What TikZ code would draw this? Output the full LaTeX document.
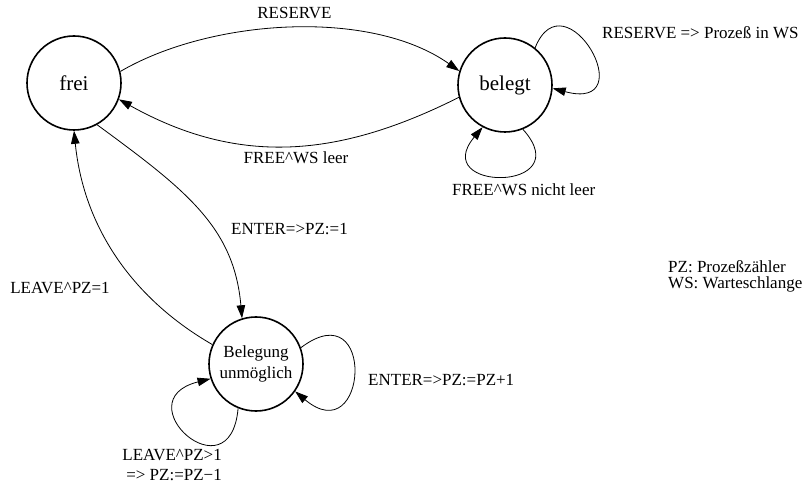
\documentclass[tikz,border=0pt]{standalone}
\usepackage{fontspec}
\setmainfont{Liberation Serif}
\usetikzlibrary{arrows.meta}

\begin{document}
\begin{tikzpicture}[x=1pt,y=1pt,
  state/.style={circle,draw,line width=1.6pt,minimum size=94pt,inner sep=0pt,align=center},
  bigname/.style={font=\fontsize{21}{24}\selectfont},
  smallname/.style={font=\fontsize{17}{21}\selectfont},
  lbl/.style={font=\fontsize{17}{18}\selectfont,inner sep=0pt},
  trans/.style={line width=0.8pt,-{Triangle[length=13pt,width=8.5pt]}}
]
\useasboundingbox (0,0) rectangle (808,485);

% states
\node[state,bigname]   (frei)   at (74,402)  {frei};
\node[state,bigname]   (belegt) at (505,400) {belegt};
\node[state,smallname] (beleg)  at (256,121) {Belegung\\unmöglich};

% transitions between states
\draw[trans] (frei.14) .. controls (210,466) and (370,477) .. (belegt.163);
\draw[trans] (belegt.195) .. controls (340,328) and (240,318) .. (frei.-20);
\draw[trans] (frei.-61) .. controls (186,295) and (234,258) .. (beleg.107);
\draw[trans] (beleg.156) .. controls (135,185) and (84,255) .. (frei.-90);

% self loops
\draw[trans] (belegt.51) .. controls +(68:80) and +(-15:95) .. (belegt.-4);
\draw[trans] (belegt.-68) .. controls +(-48:85) and +(230:85) .. (belegt.-118);
\draw[trans] (beleg.20) .. controls +(37:95) and +(-40:95) .. (beleg.-35);
\draw[trans] (beleg.-112) .. controls +(-95:90) and +(194:90) .. (beleg.198);

% transition labels
\node[lbl] (lres)   at (294.5,472) {RESERVE};
\node[lbl] (lfree)  at (296,327)   {FREE\textasciicircum WS leer};
\node[lbl] (lenter) at (289.5,256) {ENTER=>PZ:=1};
\node[lbl] (lleave) at (60,197)    {LEAVE\textasciicircum PZ=1};
\node[lbl,anchor=west] (lresws) at (602,452) {RESERVE => Prozeß in WS};
\node[lbl,anchor=west] (lfreen) at (452,295) {FREE\textasciicircum WS nicht leer};
\node[lbl,anchor=west] (lencnt) at (368,105) {ENTER=>PZ:=PZ+1};
\node[lbl,align=right,anchor=east,font=\fontsize{17}{19.5}\selectfont] (llvcnt) at (222,20)
  {LEAVE\textasciicircum PZ>1\\=> PZ:=PZ−1};

% legend
\node[lbl,align=left,anchor=west,font=\fontsize{17}{16}\selectfont] (legend) at (668,209)
  {PZ: Prozeßzähler\\WS: Warteschlange};
\end{tikzpicture}
\end{document}
